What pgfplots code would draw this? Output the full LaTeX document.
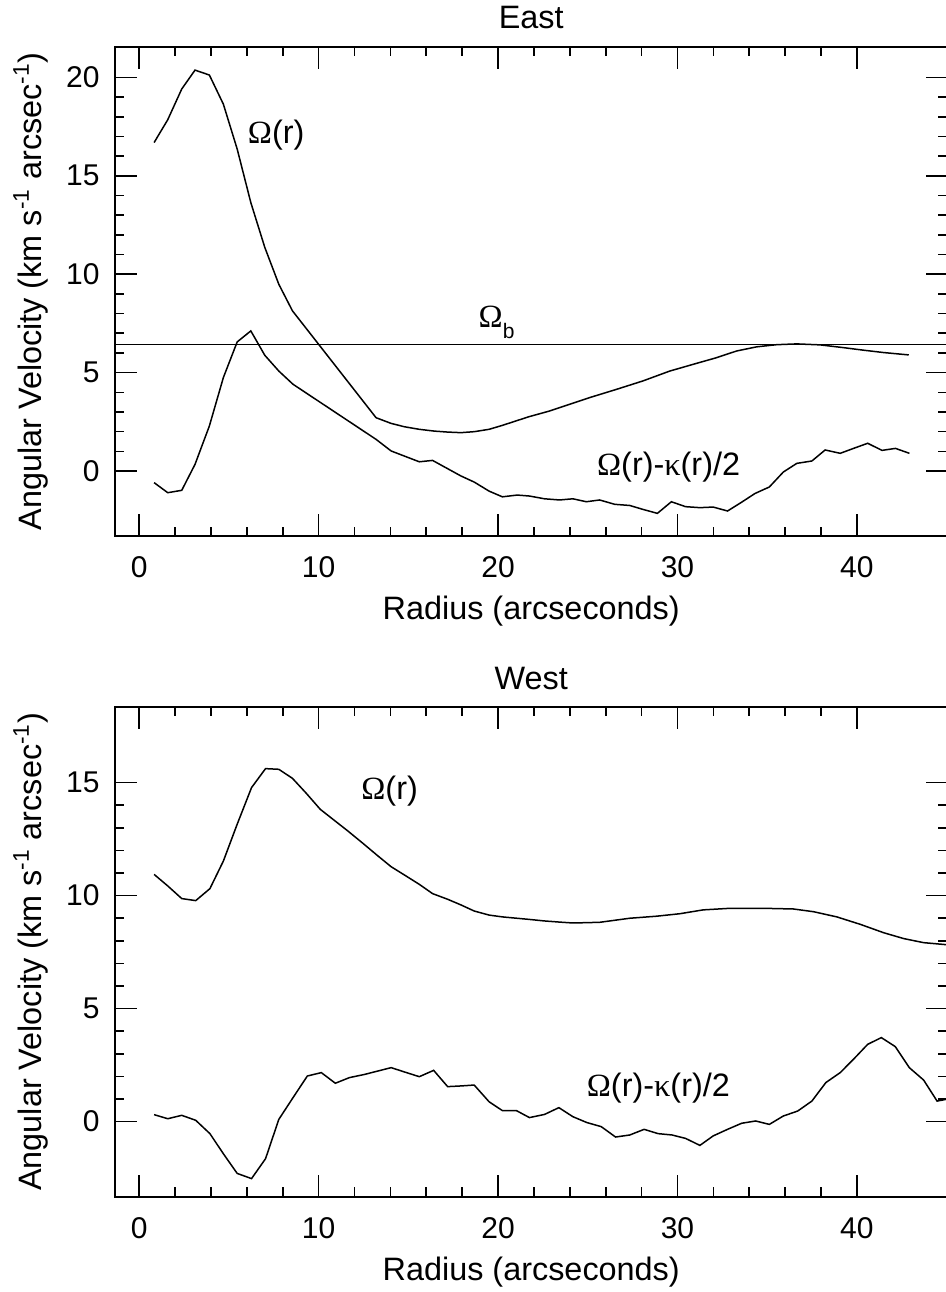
\documentclass[border=0pt]{standalone}
\usepackage{pgfplots}
\pgfplotsset{compat=1.18}
\usepackage{fontspec}
\setmainfont{Liberation Sans}
\newfontfamily\grk{Liberation Serif}
\newcommand{\Om}{{\grk Ω}}
\newcommand{\ka}{{\grk κ}}
\newcommand{\fs}{\fontsize{15}{18}\selectfont}
\newcommand{\fl}{\fontsize{16.2}{19}\selectfont}

\pgfplotstableread{
x y
0.83 16.69
1.59 17.85
2.37 19.41
3.11 20.37
3.91 20.12
4.69 18.64
5.46 16.36
6.22 13.64
7.00 11.36
7.78 9.49
8.54 8.14
13.20 2.71
14.04 2.42
14.78 2.25
15.61 2.12
16.44 2.03
17.19 1.98
17.93 1.95
18.67 2.00
19.50 2.12
20.24 2.32
21.72 2.76
22.87 3.05
23.99 3.39
25.10 3.73
26.60 4.15
28.08 4.58
29.57 5.08
31.06 5.47
32.18 5.76
33.30 6.10
34.41 6.31
35.53 6.42
36.65 6.46
37.95 6.41
39.25 6.27
40.37 6.14
41.49 6.02
42.89 5.90
}\eastOmega

\pgfplotstableread{
x y
0.83 -0.59
1.59 -1.10
2.37 -0.98
3.11 0.34
3.91 2.29
4.69 4.75
5.46 6.56
6.22 7.12
7.00 5.88
7.78 5.08
8.57 4.41
13.20 1.61
14.04 1.02
14.78 0.76
15.61 0.47
16.35 0.54
17.19 0.12
17.93 -0.25
18.67 -0.56
19.50 -1.02
20.24 -1.31
21.07 -1.22
21.75 -1.27
22.59 -1.41
23.43 -1.47
24.17 -1.41
24.92 -1.56
25.66 -1.47
26.50 -1.69
27.34 -1.75
28.08 -1.95
28.88 -2.15
29.66 -1.56
30.45 -1.81
31.25 -1.86
31.99 -1.83
32.79 -2.03
33.58 -1.58
34.32 -1.14
35.12 -0.81
35.90 -0.05
36.65 0.39
37.49 0.51
38.23 1.07
39.07 0.90
39.81 1.15
40.60 1.41
41.40 1.05
42.15 1.15
42.93 0.90
}\eastKappa

\pgfplotstableread{
x y
0.83 10.94
1.59 10.43
2.37 9.87
3.15 9.78
3.94 10.31
4.69 11.53
5.46 13.16
6.26 14.78
7.04 15.62
7.78 15.59
8.54 15.19
9.31 14.53
10.09 13.82
11.63 12.86
12.46 12.32
13.30 11.76
14.04 11.28
14.87 10.87
15.61 10.50
16.35 10.09
17.19 9.84
17.93 9.59
18.67 9.32
19.50 9.14
20.24 9.06
21.72 8.95
22.59 8.88
23.43 8.83
24.17 8.79
25.66 8.82
27.34 9.00
28.83 9.09
30.13 9.20
31.43 9.37
32.92 9.44
34.79 9.44
36.46 9.41
37.58 9.29
38.88 9.06
40.19 8.73
41.49 8.36
42.61 8.10
43.72 7.92
44.99 7.83
}\westOmega

\pgfplotstableread{
x y
0.83 0.31
1.59 0.13
2.37 0.28
3.15 0.06
3.94 -0.53
4.69 -1.42
5.46 -2.29
6.26 -2.52
7.04 -1.64
7.78 0.10
8.57 1.06
9.37 2.02
10.15 2.17
10.93 1.70
11.72 1.95
12.56 2.09
13.30 2.24
14.04 2.39
14.78 2.20
15.61 1.99
16.41 2.27
17.19 1.55
17.93 1.58
18.67 1.62
19.50 0.88
20.24 0.49
21.02 0.49
21.75 0.18
22.59 0.32
23.39 0.62
24.17 0.22
24.95 -0.04
25.75 -0.22
26.55 -0.68
27.34 -0.59
28.14 -0.34
28.92 -0.53
29.70 -0.59
30.45 -0.74
31.25 -1.05
31.99 -0.63
32.79 -0.34
33.58 -0.07
34.36 0.03
35.12 -0.12
35.90 0.25
36.70 0.47
37.49 0.91
38.27 1.73
39.07 2.17
39.81 2.76
40.60 3.42
41.36 3.72
42.14 3.32
42.92 2.39
43.72 1.84
44.47 0.91
44.99 0.99
}\westKappa

\pgfplotsset{myax/.style={
  scale only axis, width=416.25pt,
  xmin=-1.35, xmax=45.05,
  xtick={0,10,20,30,40}, minor x tick num=4,
  minor y tick num=4,
  xtick pos=both, ytick pos=both,
  tick align=inside,
  major tick length=11pt, minor tick length=4.7pt,
  axis line style={line width=0.85pt},
  every tick/.style={line width=0.8pt, black},
  tick label style={font=\fs},
  /pgf/number format/assume math mode=true,
  xticklabel style={anchor=north, inner sep=0pt, yshift=-10.3pt},
  yticklabel style={anchor=east, inner sep=0pt, xshift=-7.5pt},
}}

\begin{document}
\begin{tikzpicture}
\path[use as bounding box] (0,0) rectangle (473pt,646pt);

\begin{axis}[myax, name=topax, at={(57.5pt,378pt)}, anchor=south west,
  height=244.65pt, ymin=-3.3, ymax=21.56, ytick={0,5,10,15,20}]
\addplot[black, line width=0.75pt, no marks] table[x=x,y=y] {\eastOmega};
\addplot[black, line width=0.75pt, no marks] table[x=x,y=y] {\eastKappa};
\addplot[black, line width=0.65pt, no marks] coordinates {(-1.35,6.44) (45.05,6.44)};
\node[anchor=base west, inner sep=0pt, font=\fl] at (axis cs:6.04,16.66) {\Om(r)};
\node[anchor=base west, inner sep=0pt, font=\fl] at (axis cs:18.9,7.29) {\Om\raisebox{-5.5pt}{\fontsize{10.5}{12}\selectfont b}};
\node[anchor=base west, inner sep=0pt, font=\fl] at (axis cs:25.5,-0.25) {\Om(r)-\ka(r)/2};
\end{axis}

\begin{axis}[myax, name=botax, at={(57.5pt,47.65pt)}, anchor=south west,
  height=245pt, ymin=-3.32, ymax=18.36, ytick={0,5,10,15}]
\addplot[black, line width=0.75pt, no marks] table[x=x,y=y] {\westOmega};
\addplot[black, line width=0.75pt, no marks] table[x=x,y=y] {\westKappa};
\node[anchor=base west, inner sep=0pt, font=\fl] at (axis cs:12.36,14.27) {\Om(r)};
\node[anchor=base west, inner sep=0pt, font=\fl] at (axis cs:24.93,1.11) {\Om(r)-\ka(r)/2};
\end{axis}

\path (topax.north) ++(0,8.85pt) node[anchor=base, inner sep=0pt, font=\fl] {East};
\path (botax.north) ++(0,8.4pt) node[anchor=base, inner sep=0pt, font=\fl] {West};
\path (topax.south) ++(0,-42pt) node[anchor=base, inner sep=0pt, font=\fl] {Radius (arcseconds)};
\path (botax.south) ++(0,-42pt) node[anchor=base, inner sep=0pt, font=\fl] {Radius (arcseconds)};
\path (topax.west) ++(-36.8pt,0) node[rotate=90, anchor=base, inner sep=0pt, font=\fl] {Angular Velocity (km s\textsuperscript{-1} arcsec\textsuperscript{-1})};
\path (botax.west) ++(-36.8pt,0) node[rotate=90, anchor=base, inner sep=0pt, font=\fl] {Angular Velocity (km s\textsuperscript{-1} arcsec\textsuperscript{-1})};
\end{tikzpicture}
\end{document}
